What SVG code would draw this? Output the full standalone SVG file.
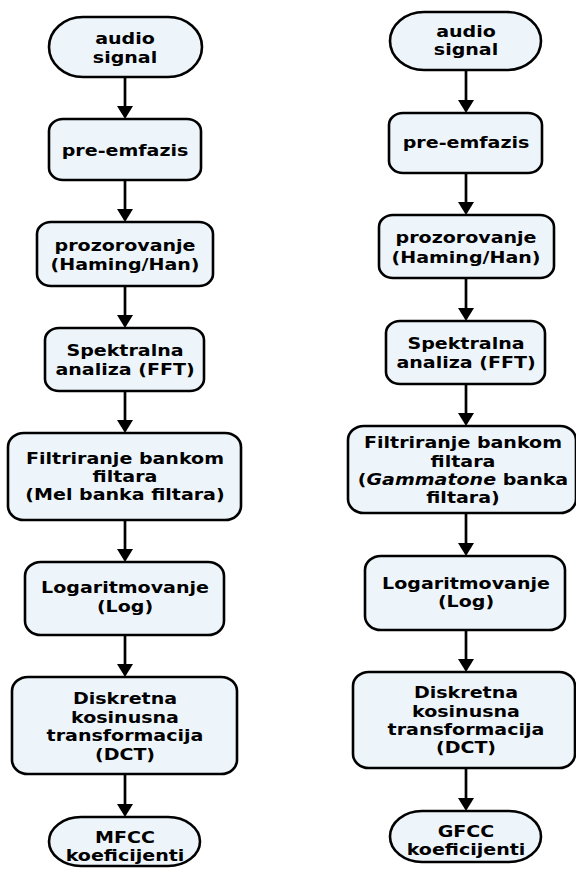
<svg xmlns="http://www.w3.org/2000/svg" width="576" height="870" viewBox="0 0 576 870">
<style>
.box{fill:#eef5fa;stroke:#000;stroke-width:2.6}
.t{font-family:"DejaVu Sans","Verdana",sans-serif;font-weight:bold;font-size:15px;fill:#000;text-anchor:middle}
.c{stroke:#000;stroke-width:2.7;fill:none}
.h{fill:#000}
</style>
<rect width="576" height="870" fill="#fff"/>
<g id="connectors">
<line class="c" x1="125" y1="77" x2="125" y2="107"/><polygon class="h" points="117,106 133,106 125,119"/>
<line class="c" x1="125" y1="180" x2="125" y2="210"/><polygon class="h" points="117,209 133,209 125,222"/>
<line class="c" x1="125" y1="286" x2="125" y2="316"/><polygon class="h" points="117,315 133,315 125,328"/>
<line class="c" x1="125" y1="391" x2="125" y2="421"/><polygon class="h" points="117,420 133,420 125,433"/>
<line class="c" x1="125" y1="520" x2="125" y2="550"/><polygon class="h" points="117,549 133,549 125,562"/>
<line class="c" x1="125" y1="635" x2="125" y2="665"/><polygon class="h" points="117,664 133,664 125,677"/>
<line class="c" x1="125" y1="774" x2="125" y2="805"/><polygon class="h" points="117,804 133,804 125,817"/>
<line class="c" x1="466" y1="70" x2="466" y2="101"/><polygon class="h" points="458,100 474,100 466,113"/>
<line class="c" x1="466" y1="173" x2="466" y2="203"/><polygon class="h" points="458,202 474,202 466,215"/>
<line class="c" x1="466" y1="278" x2="466" y2="309"/><polygon class="h" points="458,308 474,308 466,321"/>
<line class="c" x1="466" y1="384" x2="466" y2="414"/><polygon class="h" points="458,413 474,413 466,426"/>
<line class="c" x1="466" y1="513" x2="466" y2="544"/><polygon class="h" points="458,543 474,543 466,556"/>
<line class="c" x1="466" y1="630" x2="466" y2="660"/><polygon class="h" points="458,659 474,659 466,672"/>
<line class="c" x1="466" y1="768" x2="466" y2="799"/><polygon class="h" points="458,798 474,798 466,811"/>
</g>
<g id="l1"><rect class="box" x="49" y="17" width="153" height="60" rx="34" ry="30"/>
<g transform="translate(125 0) scale(1.27 1)"><text class="t" x="0" y="44">audio</text><text class="t" x="0" y="63">signal</text></g></g>
<g id="l2"><rect class="box" x="49" y="119" width="152" height="61" rx="14" ry="12"/>
<g transform="translate(125 0) scale(1.27 1)"><text class="t" x="0" y="156">pre-emfazis</text></g></g>
<g id="l3"><rect class="box" x="37" y="222" width="176" height="64" rx="14" ry="12"/>
<g transform="translate(125 0) scale(1.27 1)"><text class="t" x="0" y="251">prozorovanje</text><text class="t" x="0" y="270">(Haming/Han)</text></g></g>
<g id="l4"><rect class="box" x="45" y="328" width="159" height="63" rx="14" ry="12"/>
<g transform="translate(125 0) scale(1.27 1)"><text class="t" x="0" y="356">Spektralna</text><text class="t" x="0" y="375">analiza (FFT)</text></g></g>
<g id="l5"><rect class="box" x="8" y="433" width="233" height="87" rx="16" ry="14"/>
<g transform="translate(125 0) scale(1.27 1)"><text class="t" x="0" y="464">Filtriranje bankom</text><text class="t" x="0" y="482">filtara</text><text class="t" x="0" y="500">(Mel banka filtara)</text></g></g>
<g id="l6"><rect class="box" x="25" y="562" width="199" height="73" rx="16" ry="14"/>
<g transform="translate(125 0) scale(1.27 1)"><text class="t" x="0" y="593">Logaritmovanje</text><text class="t" x="0" y="612">(Log)</text></g></g>
<g id="l7"><rect class="box" x="12" y="677" width="225" height="97" rx="16" ry="14"/>
<g transform="translate(125 0) scale(1.27 1)"><text class="t" x="0" y="704">Diskretna</text><text class="t" x="0" y="723">kosinusna</text><text class="t" x="0" y="741">transformacija</text><text class="t" x="0" y="760">(DCT)</text></g></g>
<g id="l8"><rect class="box" x="49" y="817" width="151" height="49" rx="32" ry="24.5"/>
<g transform="translate(125 0) scale(1.27 1)"><text class="t" x="0" y="843">MFCC</text><text class="t" x="0" y="861">koeficijenti</text></g></g>
<g id="r1"><rect class="box" x="390" y="12" width="151" height="58" rx="34" ry="29"/>
<g transform="translate(466 0) scale(1.27 1)"><text class="t" x="0" y="37">audio</text><text class="t" x="0" y="55">signal</text></g></g>
<g id="r2"><rect class="box" x="389" y="113" width="153" height="60" rx="14" ry="12"/>
<g transform="translate(466 0) scale(1.27 1)"><text class="t" x="0" y="148">pre-emfazis</text></g></g>
<g id="r3"><rect class="box" x="379" y="215" width="175" height="63" rx="14" ry="12"/>
<g transform="translate(466 0) scale(1.27 1)"><text class="t" x="0" y="243">prozorovanje</text><text class="t" x="0" y="263">(Haming/Han)</text></g></g>
<g id="r4"><rect class="box" x="386" y="321" width="159" height="63" rx="14" ry="12"/>
<g transform="translate(466 0) scale(1.27 1)"><text class="t" x="0" y="349">Spektralna</text><text class="t" x="0" y="368">analiza (FFT)</text></g></g>
<g id="r5"><rect class="box" x="348" y="426" width="228" height="87" rx="16" ry="14"/>
<g transform="translate(463 0) scale(1.27 1)"><text class="t" x="0" y="448">Filtriranje bankom</text><text class="t" x="0" y="467">filtara</text><text class="t" x="0" y="485">(<tspan font-style="italic">Gammatone</tspan> banka</text><text class="t" x="0" y="503">filtara)</text></g></g>
<g id="r6"><rect class="box" x="365" y="556" width="200" height="74" rx="16" ry="14"/>
<g transform="translate(466 0) scale(1.27 1)"><text class="t" x="0" y="589">Logaritmovanje</text><text class="t" x="0" y="607">(Log)</text></g></g>
<g id="r7"><rect class="box" x="353" y="672" width="222" height="96" rx="16" ry="14"/>
<g transform="translate(466 0) scale(1.27 1)"><text class="t" x="0" y="698">Diskretna</text><text class="t" x="0" y="717">kosinusna</text><text class="t" x="0" y="735">transformacija</text><text class="t" x="0" y="753">(DCT)</text></g></g>
<g id="r8"><rect class="box" x="390" y="811" width="151" height="51" rx="32" ry="25.5"/>
<g transform="translate(466 0) scale(1.27 1)"><text class="t" x="0" y="837">GFCC</text><text class="t" x="0" y="855">koeficijenti</text></g></g>
</svg>
